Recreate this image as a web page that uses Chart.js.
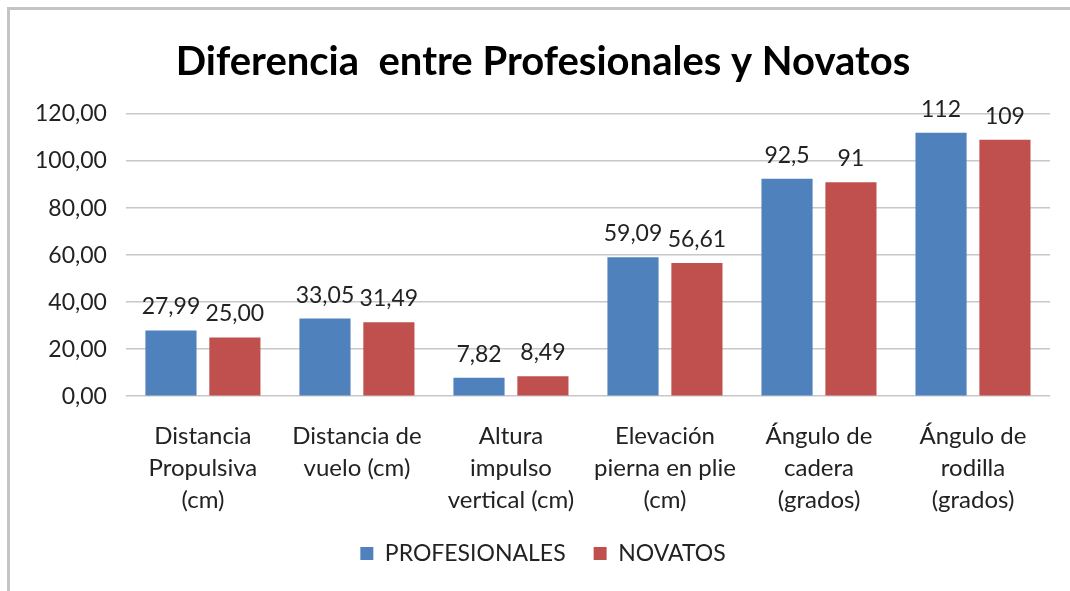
<!DOCTYPE html>
<html>
<head>
<meta charset="utf-8">
<script src="https://cdn.jsdelivr.net/npm/chart.js@4/dist/chart.umd.min.js"></script>
<style>
  html, body { margin: 0; background: #fff; overflow: hidden; }
  #frame {
    position: absolute; left: 7px; top: 7px; width: 1100px; height: 620px;
    border-top: 3px solid #c4c4c4; border-left: 3px solid #c4c4c4;
  }
  #wrap { position: absolute; left: 0; top: 0; width: 1070px; height: 591px; }
</style>
</head>
<body>
<div id="frame"></div>
<div id="wrap"><canvas id="chart"></canvas></div>
<script>
const categories = [
  ['Distancia', 'Propulsiva', '(cm)'],
  ['Distancia de', 'vuelo (cm)'],
  ['Altura', 'impulso', 'vertical (cm)'],
  ['Elevación', 'pierna en plie', '(cm)'],
  ['Ángulo de', 'cadera', '(grados)'],
  ['Ángulo de', 'rodilla', '(grados)']
];
const profesionales = [27.99, 33.05, 7.82, 59.09, 92.5, 112];
const novatos = [25.00, 31.49, 8.49, 56.61, 91, 109];
// labels as they are printed above the bars
const profLabels = ['27,99', '33,05', '7,82', '59,09', '92,5', '112'];
const novLabels = ['25,00', '31,49', '8,49', '56,61', '91', '109'];
const yTicks = [0, 20, 40, 60, 80, 100, 120];

const FONT = 'Lato, "Noto Sans", sans-serif';

const barLabels = {
  id: 'barLabels',
  afterDatasetsDraw(chart) {
    const ctx = chart.ctx;
    ctx.save();
    ctx.font = '23px ' + FONT;
    ctx.fillStyle = '#222';
    ctx.textAlign = 'center';
    ctx.textBaseline = 'alphabetic';
    chart.data.datasets.forEach((ds, i) => {
      chart.getDatasetMeta(i).data.forEach((bar, j) => {
        ctx.fillText(ds.shownLabels[j], bar.x, bar.y - 16);
      });
    });
    ctx.restore();
  }
};

new Chart(document.getElementById('chart'), {
  type: 'bar',
  data: {
    labels: categories,
    datasets: [
      { label: 'PROFESIONALES', data: profesionales, shownLabels: profLabels,
        backgroundColor: '#4f81bd' },
      { label: 'NOVATOS', data: novatos, shownLabels: novLabels,
        backgroundColor: '#c0504d' }
    ]
  },
  options: {
    responsive: true,
    maintainAspectRatio: false,
    animation: false,
    layout: { padding: { left: 36, right: 20, top: 38, bottom: 16 } },
    datasets: { bar: { categoryPercentage: 0.83, barPercentage: 0.8 } },
    plugins: {
      title: {
        display: true,
        text: 'Diferencia  entre Profesionales y Novatos',
        font: { family: FONT, size: 40, weight: 'bold' },
        color: '#000',
        padding: { top: 0, bottom: 28 }
      },
      legend: {
        position: 'bottom',
        labels: {
          font: { family: FONT, size: 23 },
          color: '#222',
          boxWidth: 13, boxHeight: 13,
          padding: 28
        }
      },
      tooltip: { enabled: false }
    },
    scales: {
      x: {
        grid: { display: false, drawTicks: false },
        border: { display: false },
        ticks: { font: { family: FONT, size: 24, lineHeight: 1.33 }, color: '#222', maxRotation: 0, padding: 24 },
        afterFit(axis) { axis.height -= 26; }
      },
      y: {
        min: 0, max: 120,
        afterBuildTicks(axis) { axis.ticks = yTicks.map(v => ({ value: v })); },
        afterFit(axis) { axis.width -= 20; },
        grid: { color: '#c8c8c8', lineWidth: 1.5, drawTicks: false },
        border: { display: false },
        ticks: {
          font: { family: FONT, size: 23 }, color: '#222', padding: 19,
          callback: v => v.toFixed(2).replace('.', ',')
        }
      }
    }
  },
  plugins: [barLabels]
});
</script>
</body>
</html>
